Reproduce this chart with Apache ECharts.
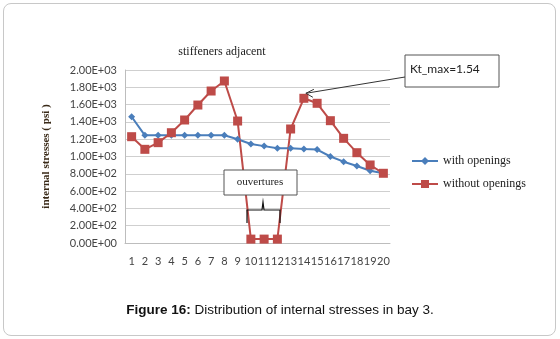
<!DOCTYPE html>
<html><head><meta charset="utf-8">
<script src="https://cdn.jsdelivr.net/npm/echarts@6/dist/echarts.min.js"></script>
<style>
html,body{margin:0;padding:0;background:#fff;}
#frame{position:absolute;left:3px;top:3px;width:551px;height:331px;border:1px solid #c8c8c8;border-radius:8px;}
#chart{position:absolute;left:0;top:0;width:560px;height:339px;}
#cap{position:absolute;left:0;top:302px;width:560px;text-align:center;font-family:"Liberation Sans",Arial,sans-serif;font-size:13.5px;color:#111;}
</style></head>
<body>
<div id="frame"></div>
<div id="chart"></div>
<div id="cap"><b>Figure 16:</b> Distribution of internal stresses in bay 3.</div>
<script>
const categories = ['1','2','3','4','5','6','7','8','9','10','11','12','13','14','15','16','17','18','19','20'];
const withOpenings = [1460,1245,1245,1245,1245,1245,1245,1245,1200,1145,1120,1095,1095,1087,1080,1000,940,890,836,806];
const withoutOpenings = [1229,1083,1160,1275,1422,1595,1757,1873,1410,45,45,45,1318,1673,1615,1414,1210,1044,902,806];
const yTickLabels = ['0.00E+00','2.00E+02','4.00E+02','6.00E+02','8.00E+02','1.00E+03','1.20E+03','1.40E+03','1.60E+03','1.80E+03','2.00E+03'];
const seriesNames = ['with openings','without openings'];

const chart = echarts.init(document.getElementById('chart'), null, {renderer:'canvas'});
const serif = '"Liberation Serif","DejaVu Serif",serif';
const option = {
  animation:false,
  title:{text:'stiffeners adjacent',left:217,top:41,textAlign:'center',
    textStyle:{fontFamily:serif,fontSize:12,fontWeight:'normal',color:'#222'}},
  grid:{left:125,right:170,top:70,bottom:96},
  legend:{orient:'vertical',left:406,top:150,itemGap:11,itemWidth:26,itemHeight:10,
    textStyle:{fontFamily:serif,fontSize:12,color:'#222'},
    data:seriesNames},
  xAxis:{type:'category',data:categories,boundaryGap:true,
    axisLine:{lineStyle:{color:'#bdbdbd'}},axisTick:{show:false},
    axisLabel:{interval:0,margin:13,fontFamily:'Lato,sans-serif',fontSize:11,color:'#444'}},
  yAxis:{type:'value',min:0,max:2000,interval:200,
    name:'internal stresses ( psi )',nameLocation:'middle',nameGap:73,nameRotate:90,
    nameTextStyle:{fontFamily:serif,fontWeight:'bold',fontSize:11,color:'#3a2a18'},
    axisLine:{show:true,lineStyle:{color:'#bdbdbd'}},axisTick:{show:false},
    splitLine:{lineStyle:{color:'#cfcfcf'}},
    axisLabel:{margin:8,fontFamily:'Lato,sans-serif',fontSize:11,color:'#444',
      formatter:(v)=>yTickLabels[Math.round(v/200)]}},
  series:[
    {name:seriesNames[0],type:'line',data:withOpenings,symbol:'diamond',symbolSize:7,
      itemStyle:{color:'#4a7ebb'},lineStyle:{width:2,color:'#4a7ebb'}},
    {name:seriesNames[1],type:'line',data:withoutOpenings,symbol:'rect',symbolSize:9,
      itemStyle:{color:'#be4b48'},lineStyle:{width:2,color:'#be4b48'}}
  ]
};
chart.setOption(option);
const p14 = chart.convertToPixel({seriesIndex:1},[13,withoutOpenings[13]]);
chart.setOption({graphic:[
  {type:'rect',shape:{x:405,y:55,width:94,height:32},style:{fill:'#fff',stroke:'#555',lineWidth:1},z:10},
  {type:'text',x:410,y:63,style:{text:'Kt_max=1.54',fontFamily:'Lato,sans-serif',fontSize:12,fill:'#222'},z:11},
  {type:'line',shape:{x1:405,y1:77,x2:p14[0]+2,y2:p14[1]-5},style:{stroke:'#333',lineWidth:1},z:10},
  {type:'polyline',shape:{points:[[p14[0]+10,p14[1]-9],[p14[0]+2,p14[1]-5],[p14[0]+9,p14[1]-1]]},style:{stroke:'#333',lineWidth:1,fill:null},z:10},
  {type:'rect',shape:{x:224,y:170,width:73,height:25},style:{fill:'#fff',stroke:'#555',lineWidth:1},z:10},
  {type:'text',x:260,y:182,style:{text:'ouvertures',fontFamily:serif,fontSize:11,fill:'#222',align:'center',verticalAlign:'middle'},z:11},
  {type:'polyline',shape:{points:[[247,223],[247,210],[262,210],[263,202],[264,210],[280,210],[280,223]]},style:{stroke:'#111',lineWidth:1.2,fill:null},z:10}
]});
</script>
</body></html>
